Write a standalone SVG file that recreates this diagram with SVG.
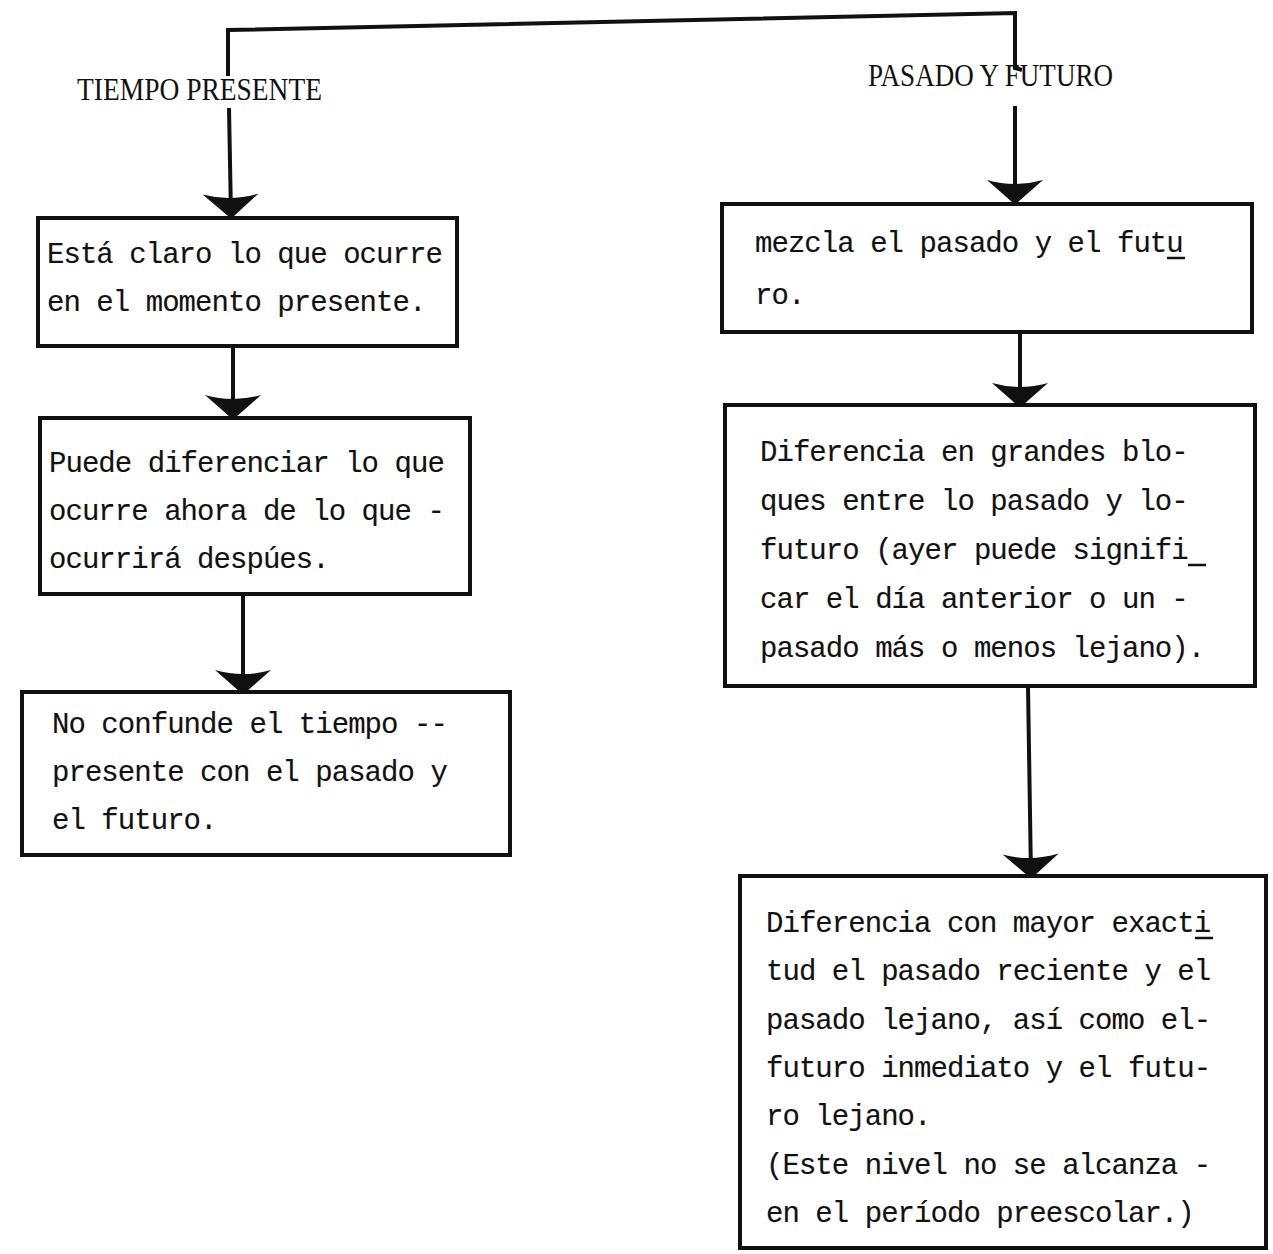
<svg xmlns="http://www.w3.org/2000/svg" width="1273" height="1254" viewBox="0 0 1273 1254">
<defs>
<style>
.box{fill:none;stroke:#111;stroke-width:4;stroke-linejoin:miter}
.ln{fill:none;stroke:#111;stroke-width:4}
.ul{stroke:#111;stroke-width:2.5}
.t{font-family:"Liberation Mono","DejaVu Sans Mono",monospace;font-size:29px;letter-spacing:-0.95px;fill:#111;stroke:#111;stroke-width:0.15}
.h{font-family:"Liberation Serif","DejaVu Serif",serif;font-size:31px;fill:#111}
</style>
<marker id="ah" markerUnits="userSpaceOnUse" markerWidth="30" markerHeight="60" viewBox="-24 -30 26 60" refX="0" refY="0" orient="auto" overflow="visible">
<path d="M -22,-28 Q -14,0 -22,28 L 0,3 L 0,-3 Z" fill="#111"/>
</marker>
</defs>
<rect width="1273" height="1254" fill="#fff"/>
<g id="connectors">
<path class="ln" d="M 228,76 L 228,30 L 1015,13 L 1015,68 L 1022,70"/>
<path class="ln" d="M 229,108 L 231,216" marker-end="url(#ah)"/>
<path class="ln" d="M 1015,106 L 1015,202" marker-end="url(#ah)"/>
<path class="ln" d="M 233,346 L 233,417" marker-end="url(#ah)"/>
<path class="ln" d="M 243,594 L 243,692" marker-end="url(#ah)"/>
<path class="ln" d="M 1020,333 L 1020,405" marker-end="url(#ah)"/>
<path class="ln" d="M 1028,687 L 1031,876" marker-end="url(#ah)"/>
</g>
<g id="label-presente">
<text class="h" x="77" y="100" textLength="245" lengthAdjust="spacingAndGlyphs">TIEMPO PRESENTE</text>
</g>
<g id="label-pasado">
<text class="h" x="868" y="86" textLength="245" lengthAdjust="spacingAndGlyphs">PASADO Y FUTURO</text>
</g>
<g id="node-l1">
<rect class="box" x="38" y="218" width="419" height="128"/>
<text class="t" x="47" y="263">Está claro lo que ocurre</text>
<text class="t" x="47" y="311">en el momento presente.</text>
</g>
<g id="node-l2">
<rect class="box" x="40" y="418" width="430" height="176"/>
<text class="t" x="49" y="472">Puede diferenciar lo que</text>
<text class="t" x="49" y="520">ocurre ahora de lo que -</text>
<text class="t" x="49" y="568">ocurrirá despúes.</text>
</g>
<g id="node-l3">
<rect class="box" x="22" y="692" width="488" height="163"/>
<text class="t" x="52" y="733">No confunde el tiempo --</text>
<text class="t" x="52" y="781">presente con el pasado y</text>
<text class="t" x="52" y="829">el futuro.</text>
</g>
<g id="node-r1">
<rect class="box" x="722" y="204" width="530" height="128"/>
<text class="t" x="755" y="252">mezcla el pasado y el futu</text>
<line class="ul" x1="1167" y1="258" x2="1185" y2="258"/>
<text class="t" x="755" y="304">ro.</text>
</g>
<g id="node-r2">
<rect class="box" x="725" y="405" width="530" height="281"/>
<text class="t" x="760" y="461">Diferencia en grandes blo-</text>
<text class="t" x="760" y="510">ques entre lo pasado y lo-</text>
<text class="t" x="760" y="559">futuro (ayer puede signifi</text>
<line class="ul" x1="1188" y1="565" x2="1206" y2="565"/>
<text class="t" x="760" y="608">car el día anterior o un -</text>
<text class="t" x="760" y="657">pasado más o menos lejano).</text>
</g>
<g id="node-r3">
<rect class="box" x="740" y="876" width="526" height="372"/>
<text class="t" x="766" y="932">Diferencia con mayor exacti</text>
<line class="ul" x1="1195" y1="938" x2="1213" y2="938"/>
<text class="t" x="766" y="980">tud el pasado reciente y el</text>
<text class="t" x="766" y="1029">pasado lejano, así como el-</text>
<text class="t" x="766" y="1077">futuro inmediato y el futu-</text>
<text class="t" x="766" y="1125">ro lejano.</text>
<text class="t" x="766" y="1174">(Este nivel no se alcanza -</text>
<text class="t" x="766" y="1222">en el período preescolar.)</text>
</g>
</svg>
